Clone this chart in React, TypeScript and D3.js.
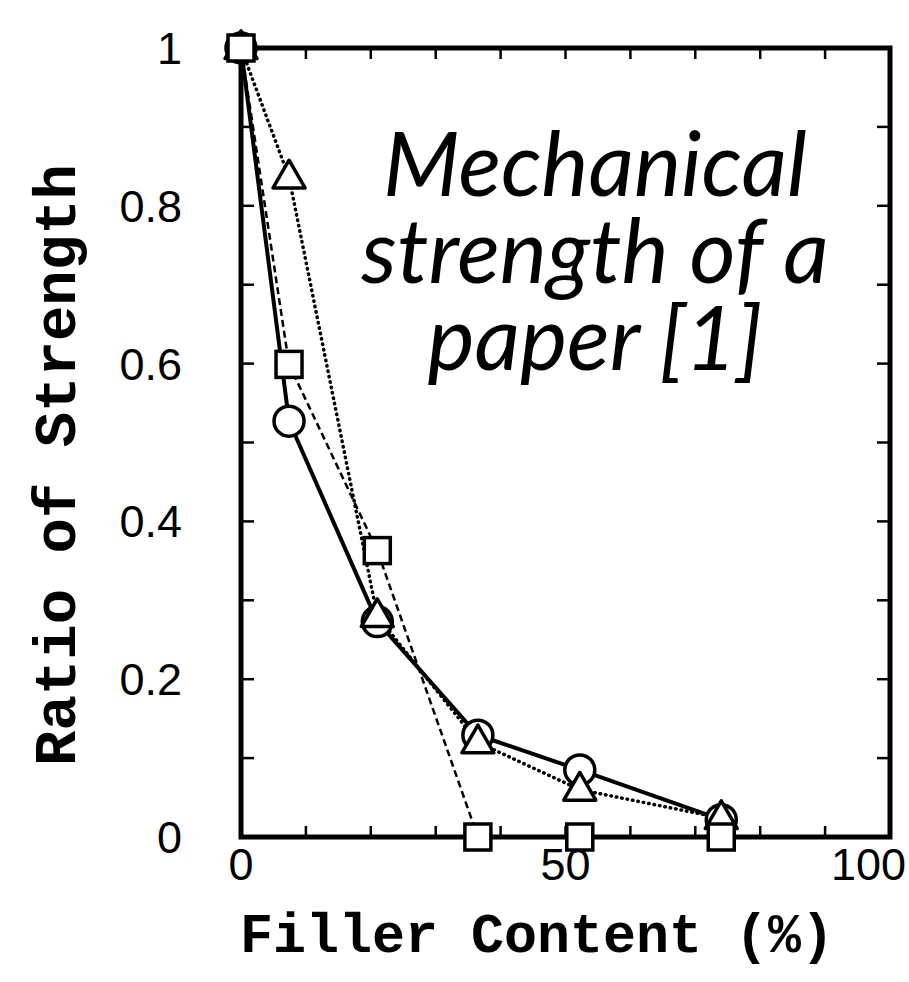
import React from 'react';
import * as d3 from 'd3';

const fillerContent = [0, 7.4, 21, 36.5, 52.2, 74];
const circleSeries = [1, 0.527, 0.273, 0.129, 0.085, 0.022];
const triangleSeries = [1, 0.836, 0.28, 0.12, 0.06, 0.024];
const squareSeries = [1, 0.599, 0.363, 0, 0, 0];
const xTickLabels = [0, 50, 100];
const yTickLabels = [0, 0.2, 0.4, 0.6, 0.8, 1];
const xMinorTicks = d3.range(10, 100, 10);
const yMinorTicks = d3.range(1, 10).map((d) => d / 10);
const titleLines = ['Mechanical', 'strength of a', 'paper [1]'];
const xAxisTitle = 'Filler Content (%)';
const yAxisTitle = 'Ratio of Strength';

const W = 909;
const H = 982;
const L = 241;
const R = 890;
const T = 48;
const B = 837;

export default function App() {
  const x = d3.scaleLinear().domain([0, 100]).range([L, R]);
  const y = d3.scaleLinear().domain([0, 1]).range([B, T]);
  const line = d3
    .line<number>()
    .x((_, i) => x(fillerContent[i]))
    .y((d) => y(d));

  const tickLen = 11;
  const labelFont = "'Liberation Sans', Arial, sans-serif";
  const monoFont = "'Liberation Mono', 'Courier New', monospace";

  const tri = (cx: number, cy: number, s: number) => {
    const h = s * 0.866;
    return `M${cx},${cy - h * 0.62} L${cx + s / 2},${cy + h * 0.38} L${cx - s / 2},${cy + h * 0.38} Z`;
  };

  return (
    <svg
      width={W}
      height={H}
      viewBox={`0 0 ${W} ${H}`}
      style={{ position: 'absolute', left: 0, top: 0, background: '#fff', display: 'block' }}
    >
      <rect x={0} y={0} width={W} height={H} fill="#fff" />

      {/* ticks */}
      {xMinorTicks.map((t) => (
        <g key={'xt' + t}>
          <line x1={x(t)} x2={x(t)} y1={B} y2={B - tickLen} stroke="#000" strokeWidth={2.5} />
          <line x1={x(t)} x2={x(t)} y1={T} y2={T + tickLen} stroke="#000" strokeWidth={2.5} />
        </g>
      ))}
      {yMinorTicks.map((t) => (
        <g key={'yt' + t}>
          <line x1={L} x2={L + tickLen + 2} y1={y(t)} y2={y(t)} stroke="#000" strokeWidth={2.5} />
          <line x1={R} x2={R - tickLen - 2} y1={y(t)} y2={y(t)} stroke="#000" strokeWidth={2.5} />
        </g>
      ))}

      {/* frame */}
      <rect x={L} y={T} width={R - L} height={B - T} fill="none" stroke="#000" strokeWidth={5} />

      {/* tick labels */}
      {yTickLabels.map((t) => (
        <text
          key={'yl' + t}
          x={182}
          y={y(t) + 16}
          textAnchor="end"
          fontFamily={labelFont}
          fontSize={45}
          fill="#000"
        >
          {String(t)}
        </text>
      ))}
      {xTickLabels.map((t, i) => (
        <text
          key={'xl' + t}
          x={i === xTickLabels.length - 1 ? 906 : x(t)}
          y={880}
          textAnchor={i === xTickLabels.length - 1 ? 'end' : 'middle'}
          fontFamily={labelFont}
          fontSize={45}
          fill="#000"
        >
          {String(t)}
        </text>
      ))}

      {/* axis titles */}
      <text
        x={537}
        y={952}
        textAnchor="middle"
        fontFamily={monoFont}
        fontWeight="bold"
        fontSize={55}
        fill="#000"
      >
        {xAxisTitle}
      </text>
      <text
        transform={`translate(75, 465) rotate(-90)`}
        textAnchor="middle"
        fontFamily={monoFont}
        fontWeight="bold"
        fontSize={59}
        fill="#000"
      >
        {yAxisTitle}
      </text>

      {/* title */}
      <text
        x={595}
        y={196}
        textAnchor="middle"
        fontFamily="Lato, 'Open Sans', sans-serif"
        fontStyle="italic"
        fontSize={89}
        fill="#000"
      >
        {titleLines.map((s, i) => (
          <tspan key={'t' + i} x={595} dy={i === 0 ? 0 : 87}>
            {s}
          </tspan>
        ))}
      </text>

      {/* lines */}
      <path d={line(circleSeries) || ''} fill="none" stroke="#000" strokeWidth={4} />
      <path
        d={line(triangleSeries) || ''}
        fill="none"
        stroke="#000"
        strokeWidth={3.5}
        strokeDasharray="0.5,5"
        strokeLinecap="round"
      />
      <path
        d={line(squareSeries) || ''}
        fill="none"
        stroke="#000"
        strokeWidth={2.5}
        strokeDasharray="7,4"
      />

      {/* markers */}
      {circleSeries.map((v, i) => (
        <circle
          key={'c' + i}
          cx={x(fillerContent[i])}
          cy={y(v)}
          r={15}
          fill="#fff"
          stroke="#000"
          strokeWidth={3.5}
        />
      ))}
      {triangleSeries.map((v, i) => (
        <path
          key={'tr' + i}
          d={tri(x(fillerContent[i]), y(v), 32)}
          fill="#fff"
          stroke="#000"
          strokeWidth={3.5}
          strokeLinejoin="round"
        />
      ))}
      {squareSeries.map((v, i) => (
        <rect
          key={'s' + i}
          x={x(fillerContent[i]) - 13}
          y={y(v) - 13}
          width={26}
          height={26}
          fill="#fff"
          stroke="#000"
          strokeWidth={3.5}
        />
      ))}
    </svg>
  );
}
